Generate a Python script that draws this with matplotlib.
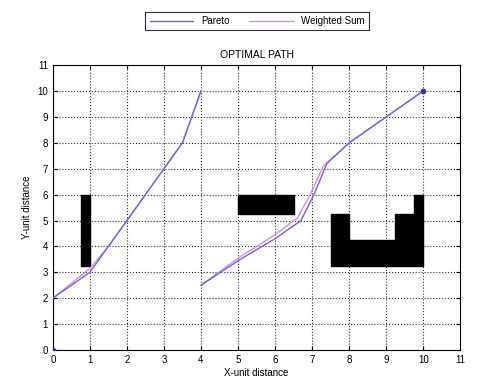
import matplotlib.pyplot as plt
from matplotlib.patches import Rectangle

plt.rcParams['font.family'] = ['Liberation Sans', 'DejaVu Sans']

# ---------------- DATA ----------------
# pareto path (two segments)
pareto_x1 = [0, 1, 1.5, 2, 3, 3.5, 4]
pareto_y1 = [2, 3, 4, 5, 7, 8, 10]
pareto_x2 = [4, 5, 6, 6.7, 7.05, 7.4, 8, 9, 10]
pareto_y2 = [2.5, 3.45, 4.3, 5.0, 6.0, 7.2, 8, 9, 10]

# weighted sum path
weighted_x1 = [0, 1, 1.5, 2, 3, 3.5, 4]
weighted_y1 = [2, 3.15, 4, 5, 7, 8, 10]
weighted_x2 = [4, 5, 6, 6.6, 6.95, 7.3, 8, 9, 10]
weighted_y2 = [2.5, 3.55, 4.45, 5.1, 6.0, 7.1, 8, 9, 10]

# obstacles: (x, y, width, height)
obs_x = [0.75, 5, 7.5, 7.5, 9.25, 9.75]
obs_y = [3.25, 5.25, 3.25, 4.25, 4.25, 5.25]
obs_w = [0.25, 1.5, 2.5, 0.5, 0.75, 0.25]
obs_h = [2.75, 0.75, 1.0, 1.0, 1.0, 0.75]

ticks = list(range(0, 12))

# ---------------- PLOT ----------------
fig = plt.figure(figsize=(5.03, 3.83), dpi=100)
ax = fig.add_axes([0.105, 0.086, 0.81, 0.744])

for x, y, w, h in zip(obs_x, obs_y, obs_w, obs_h):
    ax.add_patch(Rectangle((x, y), w, h, facecolor='black', edgecolor='black', zorder=3))

pareto_col = '#6a6ad0'
weighted_col = '#d98be8'

ax.plot(weighted_x1, weighted_y1, color=weighted_col, lw=1.0, zorder=4, label='Weighted Sum')
ax.plot(weighted_x2, weighted_y2, color=weighted_col, lw=1.0, zorder=4)
ax.plot(pareto_x1, pareto_y1, color=pareto_col, lw=1.0, zorder=5, label='Pareto')
ax.plot(pareto_x2, pareto_y2, color=pareto_col, lw=1.0, zorder=5)
ax.plot([0, 10], [0, 10], ls='none', marker='o', ms=3, color='#3030c0', zorder=6)

ax.set_xlim(0, 11)
ax.set_ylim(0, 11)
ax.set_xticks(ticks)
ax.set_yticks(ticks)
ax.tick_params(direction='in', top=True, right=True, labelsize=7, length=3)
ax.grid(True, ls=':', color='#333333', lw=0.8)
ax.set_axisbelow(True)

ax.set_title('OPTIMAL PATH', fontsize=7.5, pad=5)
ax.set_xlabel('X-unit distance', fontsize=7, labelpad=2)
ax.set_ylabel('Y-unit distance', fontsize=7, labelpad=4)

handles, labels = ax.get_legend_handles_labels()
leg = fig.legend(handles[::-1], labels[::-1], loc='center', bbox_to_anchor=(0.511, 0.945),
                 ncol=2, fontsize=7, frameon=True, fancybox=False, edgecolor='black',
                 handlelength=4.5, columnspacing=2.0, borderpad=0.45)
leg.get_frame().set_linewidth(0.8)

fig.savefig('out.png', dpi=100)
